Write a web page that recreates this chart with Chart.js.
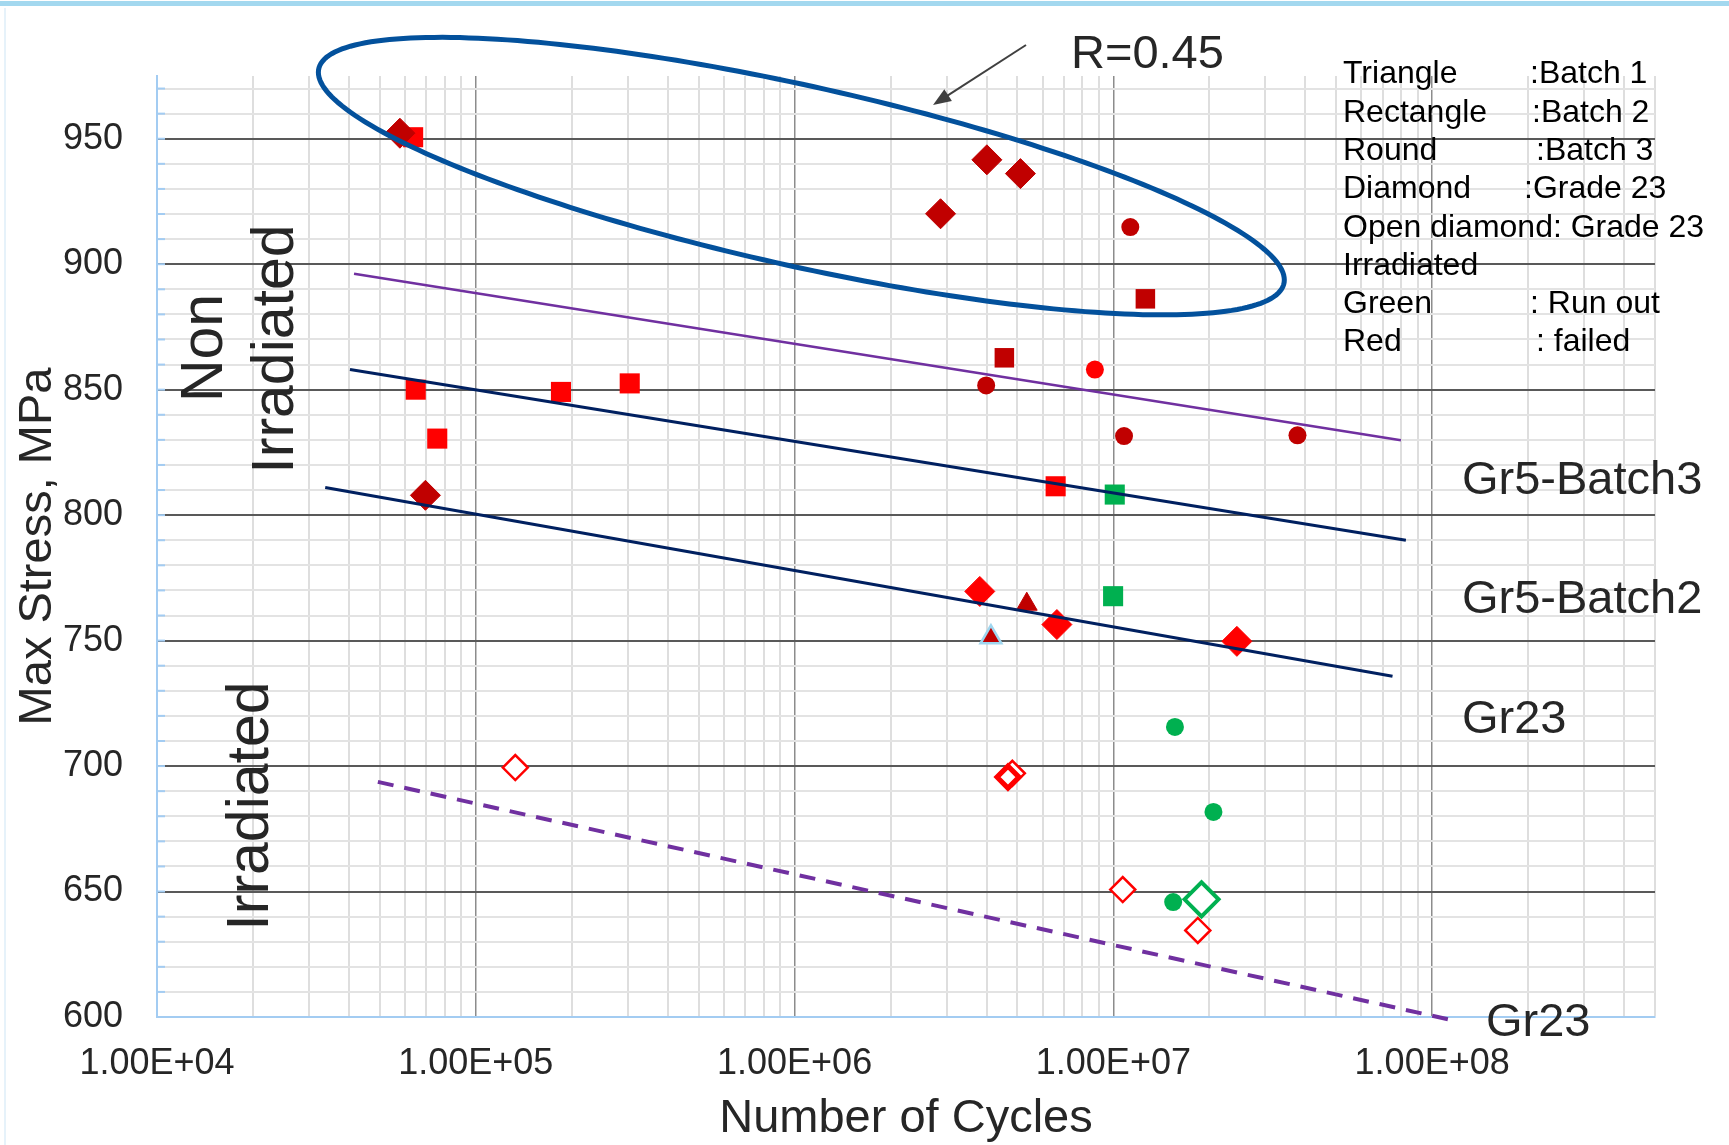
<!DOCTYPE html>
<html>
<head>
<meta charset="utf-8">
<title>S-N curves</title>
<script src="https://cdn.jsdelivr.net/npm/chart.js@4.4.1/dist/chart.umd.min.js"></script>
<style>
  html, body { margin: 0; padding: 0; background: #fff; }
  canvas { display: block; }
</style>
</head>
<body>
<canvas id="snChart" width="1729" height="1145"></canvas>
<script>
// ---- data (cycles, max stress MPa) ----

// Grade 23 non irradiated, dark red diamonds
const gr23Cycles = [5.78e4, 4.01e6, 5.11e6, 2.87e6, 6.95e4];
const gr23Stress = [952.2, 941.6, 936.1, 920.1, 807.9];
// Grade 23, bright red diamonds
const gr23RedCycles = [3.81e6, 6.65e6, 2.44e7];
const gr23RedStress = [769.6, 756.4, 749.7];

// Batch 2 (squares)
const batch2Cycles = [6.36e4, 6.48e4, 7.57e4, 1.85e5, 3.04e5, 6.59e6];
const batch2Stress = [950.6, 850.0, 830.5, 849.1, 852.5, 811.5];
const batch2DarkCycles = [4.55e6, 1.26e7];
const batch2DarkStress = [862.7, 886.2];
const batch2RunoutCycles = [1.01e7, 9.98e6];
const batch2RunoutStress = [808.2, 767.7];

// Batch 3 (round)
const batch3Cycles = [1.13e7, 3.99e6, 1.08e7, 3.78e7];
const batch3Stress = [914.8, 851.7, 831.5, 831.8];
const batch3RedCycles = [8.75e6];
const batch3RedStress = [858.0];
const batch3RunoutCycles = [1.56e7, 2.06e7, 1.54e7];
const batch3RunoutStress = [715.6, 681.7, 645.8];

// Batch 1 (triangles)
const batch1Cycles = [5.35e6];
const batch1Stress = [764.5];
const batch1OutlinedCycles = [4.13e6];
const batch1OutlinedStress = [751.3];

// Grade 23 irradiated (open diamonds)
const irrCycles = [1.33e5, 4.82e6, 1.07e7, 1.84e7];
const irrStress = [699.4, 697.1, 650.8, 634.5];
const irrThickCycles = [4.67e6];
const irrThickStress = [695.6];
const irrRunoutCycles = [1.89e7];
const irrRunoutStress = [646.9];

// trend lines (end points)
const fitBatch3Cycles = [4.15e4, 7.98e7];
const fitBatch3Stress = [896.2, 829.8];
const fitBatch2Cycles = [4.03e4, 8.27e7];
const fitBatch2Stress = [858.0, 790.0];
const fitGr23Cycles = [3.37e4, 7.51e7];
const fitGr23Stress = [811.0, 735.8];
const fitIrrCycles = [4.93e4, 1.13e8];
const fitIrrStress = [693.7, 599.0];

// axes
const decadeTicks = [1e4, 1e5, 1e6, 1e7, 1e8];
const decadeLabels = ['1.00E+04', '1.00E+05', '1.00E+06', '1.00E+07', '1.00E+08'];
const stressTicks = [600, 650, 700, 750, 800, 850, 900, 950];

const xMin = 1e4, xMax = 5e8, yMin = 600, yMax = 975;

const DARK_RED = '#c00000';
const RED = '#ff0000';
const GREEN = '#00b050';
const NAVY = '#002060';
const PURPLE = '#7030a0';

Chart.defaults.font.family = "'Liberation Sans', Arial, sans-serif";

function pts(xs, ys) {
  return xs.map((x, i) => ({ x: x, y: ys[i] }));
}

function fitLine(xs, ys, color, width, dash) {
  return {
    type: 'line', data: pts(xs, ys), borderColor: color, borderWidth: width,
    borderDash: dash || [], pointRadius: 0, fill: false, clip: false
  };
}

function markers(xs, ys, style, radius, fill, border, borderWidth) {
  return {
    data: pts(xs, ys), pointStyle: style, pointRadius: radius,
    backgroundColor: fill, borderColor: border, borderWidth: borderWidth
  };
}

// first dataset is drawn on top
var datasets = [
  fitLine(fitBatch3Cycles, fitBatch3Stress, PURPLE, 2.5),
  fitLine(fitBatch2Cycles, fitBatch2Stress, NAVY, 3),
  fitLine(fitGr23Cycles, fitGr23Stress, NAVY, 3),
  fitLine(fitIrrCycles, fitIrrStress, PURPLE, 4, [16, 11]),
  markers(gr23Cycles, gr23Stress, 'rectRot', 15, DARK_RED, DARK_RED, 1),
  markers(gr23RedCycles, gr23RedStress, 'rectRot', 15, RED, RED, 1),
  markers(batch1Cycles, batch1Stress, 'triangle', 12, DARK_RED, DARK_RED, 1),
  markers(batch1OutlinedCycles, batch1OutlinedStress, 'triangle', 12, DARK_RED, '#9fd6ef', 2.5),
  markers(batch3Cycles, batch3Stress, 'circle', 9, DARK_RED, DARK_RED, 0),
  markers(batch3RedCycles, batch3RedStress, 'circle', 9, RED, RED, 0),
  markers(batch3RunoutCycles, batch3RunoutStress, 'circle', 9, GREEN, GREEN, 0),
  markers(batch2DarkCycles, batch2DarkStress, 'rect', 13.8, DARK_RED, DARK_RED, 0),
  markers(batch2RunoutCycles, batch2RunoutStress, 'rect', 14.2, GREEN, GREEN, 0),
  markers(batch2Cycles, batch2Stress, 'rect', 14.2, RED, RED, 0),
  markers(irrRunoutCycles, irrRunoutStress, 'rectRot', 17, '#ffffff', GREEN, 4),
  markers(irrThickCycles, irrThickStress, 'rectRot', 11, '#ffffff', RED, 5),
  markers(irrCycles, irrStress, 'rectRot', 12.5, '#ffffff', RED, 2.5)
];

// ellipse around the R=0.45 results, given in axis units
const ellipseSpec = { centerCycles: 1.05e6, centerStress: 935.1, halfDecades: 1.515, halfStress: 36.7, slopePerDecade: -27.3 };

const legendRows = [
  ['Triangle', ':Batch 1', 1530],
  ['Rectangle', ':Batch 2', 1532],
  ['Round', ':Batch 3', 1536],
  ['Diamond', ':Grade 23', 1524],
  ['Open diamond: Grade 23', '', 0],
  ['Irradiated', '', 0],
  ['Green', ': Run out', 1530],
  ['Red', ': failed', 1536]
];

var decor = {
  id: 'decor',
  beforeDraw(chart) {
    const c = chart.ctx;
    c.save();
    c.fillStyle = '#ffffff';
    c.fillRect(0, 0, chart.width, chart.height);
    c.fillStyle = '#a3d8ef';
    c.fillRect(0, 1, chart.width, 5);
    c.strokeStyle = '#e6f2fa';
    c.lineWidth = 2;
    c.beginPath();
    c.moveTo(5, 8);
    c.lineTo(5, chart.height);
    c.stroke();
    c.restore();
  },
  beforeDatasetsDraw(chart) {
    // short inward ticks on the value axis
    const c = chart.ctx, y = chart.scales.y, left = chart.chartArea.left;
    c.save();
    c.strokeStyle = '#a3ccf2';
    c.lineWidth = 2;
    for (let v = yMin + 10; v < yMax; v += 10) {
      const py = y.getPixelForValue(v);
      c.beginPath();
      c.moveTo(left, py);
      c.lineTo(left + 8, py);
      c.stroke();
    }
    c.restore();
  },
  afterDatasetsDraw(chart) {
    const c = chart.ctx, xs = chart.scales.x, ys = chart.scales.y, e = ellipseSpec;
    c.save();

    // ellipse
    c.beginPath();
    for (let i = 0; i <= 240; i++) {
      const t = i / 240 * 2 * Math.PI;
      const dl = e.halfDecades * Math.cos(t);
      const px = xs.getPixelForValue(Math.pow(10, Math.log10(e.centerCycles) + dl));
      const py = ys.getPixelForValue(e.centerStress + e.slopePerDecade * dl + e.halfStress * Math.sin(t));
      if (i === 0) c.moveTo(px, py); else c.lineTo(px, py);
    }
    c.closePath();
    c.lineWidth = 5;
    c.strokeStyle = '#03519c';
    c.stroke();

    // arrow pointing at the ellipse
    const x1 = 1026, y1 = 45, x2 = 933, y2 = 105;
    const ang = Math.atan2(y2 - y1, x2 - x1);
    c.strokeStyle = '#404040';
    c.fillStyle = '#404040';
    c.lineWidth = 2;
    c.beginPath();
    c.moveTo(x1, y1);
    c.lineTo(x2 - 14 * Math.cos(ang), y2 - 14 * Math.sin(ang));
    c.stroke();
    c.beginPath();
    c.moveTo(x2, y2);
    c.lineTo(x2 - 18 * Math.cos(ang) + 7 * Math.sin(ang), y2 - 18 * Math.sin(ang) - 7 * Math.cos(ang));
    c.lineTo(x2 - 18 * Math.cos(ang) - 7 * Math.sin(ang), y2 - 18 * Math.sin(ang) + 7 * Math.cos(ang));
    c.closePath();
    c.fill();

    const fam = "'Liberation Sans', Arial, sans-serif";
    c.fillStyle = '#262626';
    c.textBaseline = 'alphabetic';
    c.textAlign = 'left';
    c.font = '47px ' + fam;
    c.fillText('R=0.45', 1071, 68);

    // legend block
    c.fillStyle = '#000000';
    c.font = '32px ' + fam;
    legendRows.forEach((row, i) => {
      const by = 83.3 + i * 38.3;
      c.fillText(row[0], 1343, by);
      if (row[1]) c.fillText(row[1], row[2], by);
    });

    // curve labels
    c.fillStyle = '#262626';
    c.font = '47px ' + fam;
    c.fillText('Gr5-Batch3', 1462, 494);
    c.fillText('Gr5-Batch2', 1462, 613);
    c.fillText('Gr23', 1462, 733);
    c.fillText('Gr23', 1486, 1036);

    // region labels (vertical)
    c.font = '59px ' + fam;
    c.textAlign = 'center';
    [['Non', 222, 348], ['Irradiated', 293, 349], ['Irradiated', 268, 806]].forEach(r => {
      c.save();
      c.translate(r[1], r[2]);
      c.rotate(-Math.PI / 2);
      c.fillText(r[0], 0, 0);
      c.restore();
    });

    c.restore();
  }
};

function logTickValues() {
  var out = [];
  decadeTicks.forEach(d => {
    for (let m = 1; m <= 9; m++) {
      if (d * m <= xMax) out.push(d * m);
    }
  });
  return out;
}

function stressTickValues() {
  var out = [];
  for (let v = yMin; v < yMax; v += 10) out.push(v);
  return out;
}

var ctx = document.getElementById('snChart');

var snChart = new Chart(ctx, {
  type: 'scatter',
  data: { datasets: datasets },
  options: {
    responsive: false,
    animation: false,
    layout: { padding: { top: 76, right: 74, left: 0, bottom: 0 } },
    plugins: {
      legend: { display: false },
      tooltip: { enabled: false }
    },
    scales: {
      x: {
        type: 'logarithmic',
        min: xMin,
        max: xMax,
        afterBuildTicks: s => { s.ticks = logTickValues().map(v => ({ value: v })); },
        afterFit: s => { s.height = 128; },
        ticks: {
          autoSkip: false, maxRotation: 0, minRotation: 0, padding: 25,
          color: '#262626', font: { size: 36 },
          callback: v => {
            const i = decadeTicks.indexOf(v);
            return i >= 0 ? decadeLabels[i] : '';
          }
        },
        grid: {
          drawTicks: false,
          color: c => {
            const v = c.tick ? c.tick.value : null;
            if (v === xMin) return 'rgba(0,0,0,0)';
            return decadeTicks.includes(v) ? '#8c8c8c' : '#dedede';
          },
          lineWidth: c => (c.tick && decadeTicks.includes(c.tick.value)) ? 1.5 : 2
        },
        border: { color: '#a3ccf2', width: 2 },
        title: {
          display: true, text: 'Number of Cycles', color: '#262626',
          font: { size: 47, lineHeight: 1.1 }, padding: { top: 0, bottom: 0 }
        }
      },
      y: {
        min: yMin,
        max: yMax,
        afterBuildTicks: s => { s.ticks = stressTickValues().map(v => ({ value: v })); },
        afterFit: s => { s.width = 157; },
        ticks: {
          autoSkip: false, padding: 34,
          color: '#262626', font: { size: 36 },
          callback: v => stressTicks.includes(v) ? String(v) : ''
        },
        grid: {
          drawTicks: false,
          color: c => {
            const v = c.tick ? c.tick.value : null;
            if (v === yMin) return 'rgba(0,0,0,0)';
            return stressTicks.includes(v) ? '#595959' : '#e3e3e3';
          },
          lineWidth: 2
        },
        border: { color: '#a3ccf2', width: 2 },
        title: {
          display: true, text: 'Max Stress, MPa', color: '#262626',
          font: { size: 47 }, padding: { top: 10, bottom: 0 }
        }
      }
    }
  },
  plugins: [decor]
});
</script>
</body>
</html>
